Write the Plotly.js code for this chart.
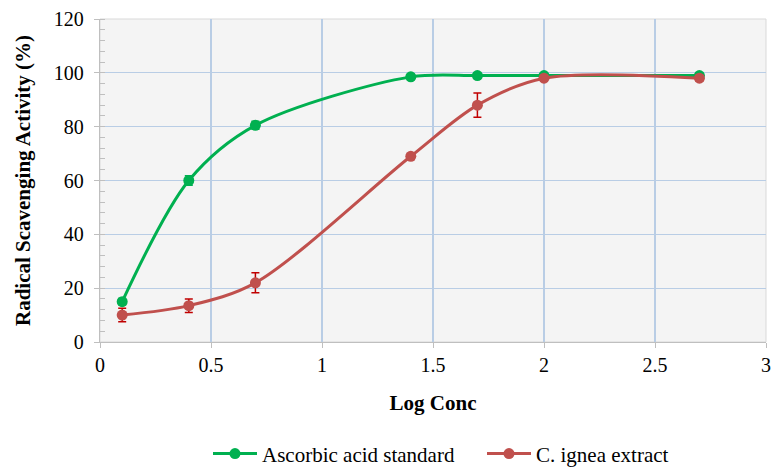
<!DOCTYPE html>
<html>
<head>
<meta charset="utf-8">
<script src="https://cdn.plot.ly/plotly-3.0.1.min.js"></script>
<style>html,body{margin:0;padding:0;background:#fff;}#chart{width:772px;height:467px;}</style>
</head>
<body>
<div id="chart"></div>
<script>
var logConc = [0.1, 0.4, 0.7, 1.4, 1.7, 2.0, 2.7];
var ascorbic = [15, 60, 80.5, 98.5, 99, 99, 99];
var ascorbicErr = [1.2, 1.8, 1.5, 1.0, 1.0, 1.0, 1.0];
var ignea = [10, 13.5, 22, 69, 88, 98, 98];
var igneaErr = [2.5, 2.5, 3.7, 1.0, 4.5, 1.0, 1.0];
var xTicks = [0, 0.5, 1, 1.5, 2, 2.5, 3];
var xTickText = ['0', '0.5', '1', '1.5', '2', '2.5', '3'];

var font = 'Liberation Serif, Times New Roman, serif';

var traces = [
  {
    x: logConc, y: ascorbic, name: 'Ascorbic acid standard',
    type: 'scatter', mode: 'lines+markers',
    line: {color: '#00b050', width: 3, shape: 'spline', smoothing: 0.9},
    marker: {color: '#00b050', size: 11},
    error_y: {type: 'data', array: ascorbicErr, visible: true, color: '#00b050', thickness: 1.5, width: 4}
  },
  {
    x: logConc, y: ignea, name: 'C. ignea extract',
    type: 'scatter', mode: 'lines+markers',
    line: {color: '#c0504d', width: 3, shape: 'spline', smoothing: 0.9},
    marker: {color: '#c0504d', size: 11},
    error_y: {type: 'data', array: igneaErr, visible: true, color: '#c00000', thickness: 1.5, width: 4}
  }
];

var layout = {
  width: 772, height: 467,
  margin: {l: 100, r: 6, t: 19, b: 125},
  paper_bgcolor: '#ffffff',
  plot_bgcolor: '#f4f4f4',
  font: {family: font, size: 20, color: '#000'},
  showlegend: true,
  legend: {orientation: 'h', x: 208 / 772, xanchor: 'left', xref: 'container',
           y: 0.028, yanchor: 'middle', yref: 'container',
           entrywidth: 215, entrywidthmode: 'pixels',
           font: {family: font, size: 21, color: '#000'}, itemwidth: 44},
  xaxis: {
    range: [0, 3], tickvals: xTicks, ticktext: xTickText,
    tickfont: {family: font, size: 20},
    showgrid: true, gridcolor: '#b9cde5', gridwidth: 1.3,
    showline: true, linecolor: '#bfbfbf', linewidth: 1.3, mirror: false,
    ticks: 'outside', ticklen: 5, tickcolor: '#bfbfbf',
    zeroline: false, automargin: false,
    title: {text: '<b>Log Conc</b>', font: {family: font, size: 21}, standoff: 20}
  },
  yaxis: {
    range: [0, 120], dtick: 20, tick0: 0,
    tickfont: {family: font, size: 20},
    ticklabelstandoff: 6,
    showgrid: true, gridcolor: '#b9cde5', gridwidth: 1.3,
    showline: true, linecolor: '#bfbfbf', linewidth: 1.3,
    ticks: 'outside', ticklen: 5, tickcolor: '#bfbfbf',
    minor: {dtick: 4, ticks: 'inside', ticklen: 5, tickcolor: '#bfbfbf', showgrid: false},
    zeroline: false, automargin: false,
    title: {text: '<b>Radical Scavenging Activity (%)</b>', font: {family: font, size: 21}, standoff: 17}
  },
  shapes: [
    {type: 'rect', xref: 'paper', yref: 'paper', x0: 0, x1: 1, y0: 0, y1: 1,
     line: {color: '#d9d9d9', width: 1}, fillcolor: 'rgba(0,0,0,0)', layer: 'below'}
  ]
};

Plotly.newPlot('chart', traces, layout, {displayModeBar: false, staticPlot: true});
</script>
</body>
</html>
